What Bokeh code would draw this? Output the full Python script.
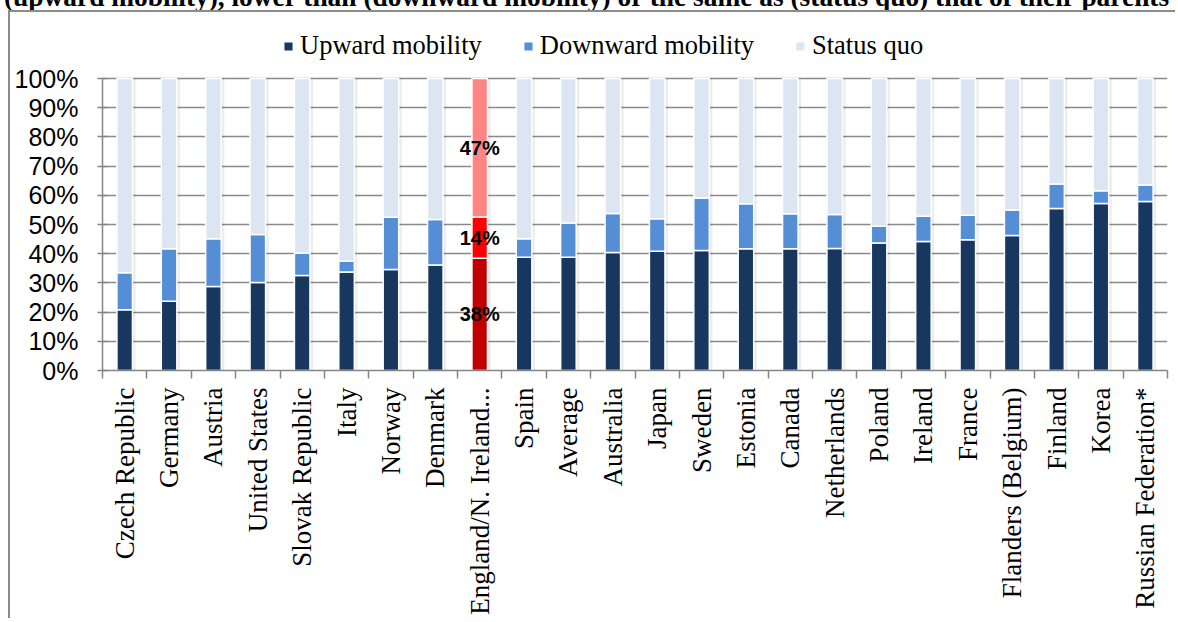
import math
from bokeh.plotting import figure
from bokeh.layouts import column
from bokeh.models import (ColumnDataSource, Range1d, FixedTicker, PrintfTickFormatter,
                          Legend, LegendItem, Div)
from bokeh.core.properties import value
from bokeh.embed import file_html
from bokeh.resources import INLINE

title_text = ("(upward mobility), lower than (downward mobility) or the same as "
              "(status quo) that of their parents")
countries = ["Czech Republic", "Germany", "Austria", "United States", "Slovak Republic",
             "Italy", "Norway", "Denmark", "England/N. Ireland...", "Spain", "Average",
             "Australia", "Japan", "Sweden", "Estonia", "Canada", "Netherlands", "Poland",
             "Ireland", "France", "Flanders (Belgium)", "Finland", "Korea",
             "Russian Federation*"]
upward = [20.8, 23.7, 28.8, 30.1, 32.5, 33.7, 34.6, 36.1, 38.4, 38.8, 38.8, 40.4,
          40.8, 41.1, 41.7, 41.7, 41.8, 43.7, 44.2, 44.8, 46.2, 55.5, 57.2, 57.9]
downward = [12.7, 18.0, 16.3, 16.5, 7.7, 3.7, 17.9, 15.6, 14.2, 6.3, 11.7, 13.4,
            11.2, 18.0, 15.4, 12.0, 11.6, 5.7, 8.6, 8.4, 8.8, 8.4, 4.4, 5.6]
status_quo = [66.5, 58.3, 54.9, 53.4, 59.8, 62.6, 47.5, 48.3, 47.4, 54.9, 49.5, 46.2,
              48.0, 40.9, 42.9, 46.3, 46.6, 50.6, 47.2, 46.8, 45.0, 36.1, 38.4, 36.5]
series_names = ["Upward mobility", "Downward mobility", "Status quo"]
highlight = "England/N. Ireland..."
y_ticks = list(range(0, 101, 10))

base_colors = ["#17375E", "#558ED5", "#DCE6F2"]
hl_colors = ["#C00000", "#FF0000", "#FF8585"]

n = len(countries)
xs = [i + 0.5 for i in range(n)]
b_up = [0] * n
t_up = upward[:]
b_dn = t_up
t_dn = [u + d for u, d in zip(upward, downward)]
b_sq = t_dn
t_sq = [a + s for a, s in zip(t_dn, status_quo)]


def colors(k):
    return [hl_colors[k] if c == highlight else base_colors[k] for c in countries]


src = ColumnDataSource(dict(x=xs, shadow_x=[x + 0.03 for x in xs],
                            b_up=b_up, t_up=t_up, b_dn=b_dn, t_dn=t_dn,
                            b_sq=b_sq, t_sq=t_sq,
                            c_up=colors(0), c_dn=colors(1), c_sq=colors(2)))

W, H = 1167, 608
top_b, bot_b = 8, 250
plot_top_px = 66          # pixel row (in figure) of the 100% line
frame_h = H - top_b - bot_b
y_end = 100 * frame_h / (H - bot_b - plot_top_px)

p = figure(width=W, height=H, x_range=Range1d(0, n), y_range=Range1d(0, y_end),
           output_backend="svg", toolbar_location=None,
           min_border_left=92, min_border_right=10, min_border_top=top_b,
           min_border_bottom=bot_b)
p.styles = {"margin-left": "8px", "margin-top": "-7px",
            "border-left": "2px solid #8c8c8c", "border-top": "2px solid #8c8c8c"}
p.outline_line_color = None
p.background_fill_color = "white"
p.border_fill_color = "white"

gray = "#868686"
# y axis
p.yaxis.ticker = FixedTicker(ticks=y_ticks, minor_ticks=[])
p.yaxis.bounds = (0, 100)
p.yaxis.formatter = PrintfTickFormatter(format="%d%%")
p.yaxis.major_label_text_font = "Liberation Sans"
p.yaxis.major_label_text_font_size = "25px"
p.yaxis.major_label_text_color = "black"
p.yaxis.major_tick_in = 5
p.yaxis.major_tick_out = 5
p.yaxis.major_tick_line_color = gray
p.yaxis.major_tick_line_width = 1.5
p.yaxis.axis_line_color = gray
p.yaxis.axis_line_width = 1.5
p.yaxis.major_label_standoff = 19

# x axis
p.xaxis.ticker = FixedTicker(ticks=xs, minor_ticks=list(range(n + 1)))
p.xaxis.major_label_overrides = {x: c for x, c in zip(xs, countries)}
p.xaxis.major_label_orientation = math.pi / 2
p.xaxis.major_label_text_font = "Liberation Serif"
p.xaxis.major_label_text_font_size = "27px"
p.xaxis.major_label_text_color = "black"
p.xaxis.major_tick_in = 0
p.xaxis.major_tick_out = 0
p.xaxis.minor_tick_in = 0
p.xaxis.minor_tick_out = 8
p.xaxis.minor_tick_line_color = gray
p.xaxis.minor_tick_line_width = 1.5
p.xaxis.axis_line_color = gray
p.xaxis.axis_line_width = 1.5
p.xaxis.major_label_standoff = 9

p.xgrid.visible = False
p.ygrid.ticker = FixedTicker(ticks=y_ticks)
p.ygrid.grid_line_color = "#8a8a8a"
p.ygrid.grid_line_width = 1.5

bw = 0.35
p.vbar(x="shadow_x", width=bw + 0.08, bottom="b_up", top="t_sq", source=src,
       fill_color="black", fill_alpha=0.07, line_color=None)
r_up = p.vbar(x="x", width=bw, bottom="b_up", top="t_up", source=src,
              fill_color="c_up", line_color="white", line_width=1.5)
r_dn = p.vbar(x="x", width=bw, bottom="b_dn", top="t_dn", source=src,
              fill_color="c_dn", line_color="white", line_width=1.5)
r_sq = p.vbar(x="x", width=bw, bottom="b_sq", top="t_sq", source=src,
              fill_color="c_sq", line_color="white", line_width=1.5)

# labels for highlighted bar
hi = countries.index(highlight)
lab_src = ColumnDataSource(dict(
    x=[xs[hi]] * 3,
    y=[(b_up[hi] + t_up[hi]) / 2, (b_dn[hi] + t_dn[hi]) / 2, (b_sq[hi] + t_sq[hi]) / 2],
    text=[f"{round(v)}%" for v in (upward[hi], downward[hi], status_quo[hi])]))
p.text(x="x", y="y", text="text", source=lab_src, text_align="center",
       text_baseline="middle", text_font=value("Liberation Sans"),
       text_font_style="bold", text_font_size="20px", text_color="black")

legend = Legend(items=[LegendItem(label=series_names[0], renderers=[r_up], index=0),
                       LegendItem(label=series_names[1], renderers=[r_dn], index=0),
                       LegendItem(label=series_names[2], renderers=[r_sq], index=0)],
                orientation="horizontal", location=(180, 309),
                label_text_font="Liberation Serif", label_text_font_size="26.5px",
                label_text_color="black",
                glyph_width=12, glyph_height=12, spacing=40, label_standoff=6,
                padding=0, margin=0, border_line_color=None, background_fill_alpha=0)
p.add_layout(legend, "center")

title = Div(text=(f'<div style="position:relative; top:-21px; left:-1px; '
                  f'white-space:nowrap; font-family:\'Liberation Serif\'; font-weight:bold; '
                  f'font-size:27.4px; line-height:27px; color:black;">{title_text}</div>'),
            width=W, height=7, styles={"overflow": "visible"})

layout = column(title, p, spacing=0)
open("out.html", "w").write(file_html(layout, INLINE))
